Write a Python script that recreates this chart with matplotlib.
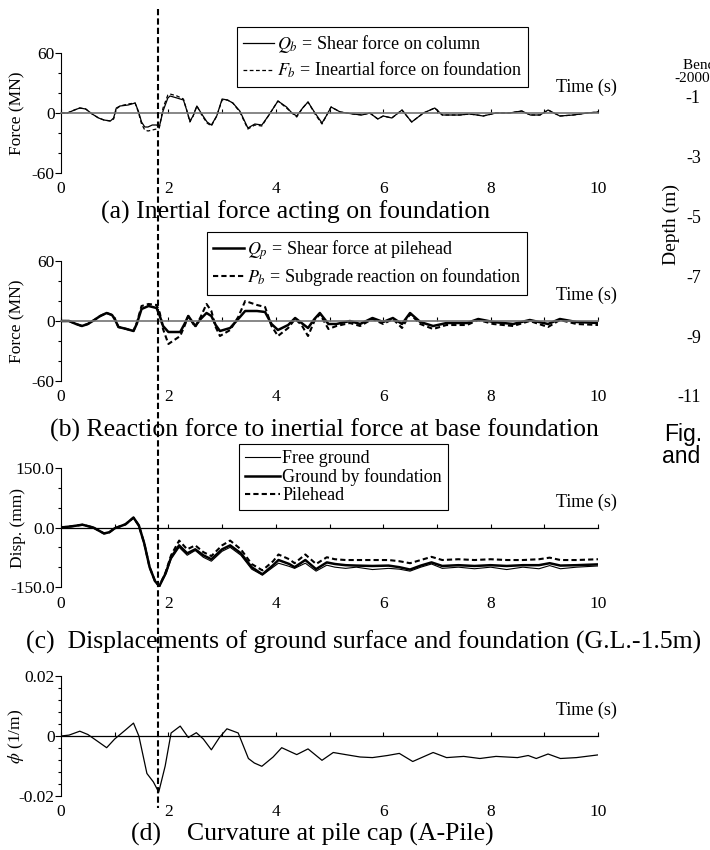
import matplotlib
matplotlib.use("Agg")
import matplotlib.pyplot as plt
from matplotlib.lines import Line2D

plt.rcParams['font.family'] = ['Liberation Serif', 'DejaVu Serif']
plt.rcParams['mathtext.fontset'] = 'stix'
plt.rcParams['axes.unicode_minus'] = False
plt.rcParams['lines.solid_joinstyle'] = 'round'
plt.rcParams['lines.dash_joinstyle'] = 'round'

#########################################################################
###                            DATA                                   ###
#########################################################################

# (a) inertial force acting on foundation (MN)
t_a = [0, 0.12, 0.25, 0.35, 0.46, 0.58, 0.7, 0.8, 0.92, 0.98,
       1.03, 1.1, 1.25, 1.38, 1.44, 1.5, 1.56, 1.62, 1.7, 1.78,
       1.83, 1.9, 1.99, 2.03, 2.16, 2.28, 2.34, 2.4, 2.46, 2.53,
       2.62, 2.72, 2.8, 2.9, 3.0, 3.1, 3.2, 3.33, 3.48, 3.61,
       3.74, 3.86, 4.04, 4.2, 4.3, 4.39, 4.5, 4.6, 4.73, 4.86,
       4.95, 5.03, 5.2, 5.44, 5.6, 5.75, 5.9, 6.0, 6.16, 6.35,
       6.53, 6.75, 6.96, 7.1, 7.43, 7.6, 7.75, 7.86, 8.1, 8.35,
       8.58, 8.74, 8.92, 9.07, 9.29, 9.54, 9.8, 10.0]
qb = [0, 0, 3, 5, 4, -1, -5, -7, -8, -5,
      5, 7, 8, 10, 2, -9, -14, -14, -12, -12,
      -14, 2, 15, 17, 15, 13, 3, -8, -3, 7,
      -1, -9, -12, -3, 14, 13, 10, 2, -15, -11,
      -12, -3, 12, 6, 0, -3, 5, 11, 0, -10,
      -2, 6, 1, -1, -2, 0, -6, -3, -5, 3,
      -9, 0, 5, -2, -2, -1, -2, -3, 0, 0,
      2, -2, -2, 3, -3, -2, 0, 1]
fb = [0, 0, 3, 5, 4, -1, -5, -7, -8, -6,
      4, 7, 9, 10, 1, -11, -17, -18, -17, -16,
      -15, 5, 18, 19, 17, 14, 3, -9, -3, 7,
      -2, -10, -13, -3, 13, 13, 10, 1, -16, -12,
      -13, -3, 12, 5, 0, -4, 5, 11, -1, -11,
      -2, 6, 1, -1, -2, 0, -6, -3, -5, 3,
      -9, 0, 5, -2, -2, -1, -2, -3, 0, 0,
      2, -2, -2, 3, -3, -2, 0, 1]

# (b) reaction force at base foundation (MN)
t_b = [0, 0.15, 0.28, 0.39, 0.5, 0.62, 0.73, 0.85, 0.95, 1.0,
       1.07, 1.22, 1.35, 1.41, 1.5, 1.63, 1.78, 1.84, 1.9, 2.0,
       2.22, 2.3, 2.37, 2.5, 2.6, 2.71, 2.8, 2.88, 2.96, 3.15,
       3.3, 3.43, 3.65, 3.8, 3.92, 4.04, 4.23, 4.36, 4.48, 4.6,
       4.72, 4.82, 4.98, 5.13, 5.38, 5.57, 5.8, 6.0, 6.18, 6.35,
       6.5, 6.69, 6.93, 7.18, 7.56, 7.77, 8.05, 8.42, 8.73, 9.07,
       9.29, 9.6, 10.0]
qp = [0, 0, -3, -5, -3, 1, 5, 8, 6, 2,
      -6, -8, -10, -3, 12, 15, 13, 5, -5, -11,
      -11, -3, 5, -5, 2, 8, 5, -4, -10, -7,
      2, 10, 10, 9, -3, -9, -4, 3, -2, -7,
      2, 8, -3, -3, 0, -3, 3, -1, 3, -3,
      8, -1, -5, -2, -2, 2, -1, -3, 1, -3,
      2, -1, -2]
pb = [0, 0, -3, -5, -3, 1, 5, 8, 6, 2,
      -6, -8, -10, -2, 15, 17, 16, 8, -8, -23,
      -15, -5, 5, -6, 4, 17, 10, -6, -15, -9,
      4, 20, 16, 14, -5, -15, -7, 2, -4, -15,
      0, 7, -8, -5, -2, -5, 2, -3, 2, -7,
      7, -3, -8, -4, -4, 1, -3, -5, 0, -6,
      1, -3, -4]

# (c) displacements (mm)
t_c = [0, 0.2, 0.4, 0.6, 0.8, 0.9, 1.0, 1.2, 1.35, 1.45,
       1.55, 1.65, 1.75, 1.83, 1.95, 2.05, 2.2, 2.35, 2.5, 2.65,
       2.8, 3.0, 3.15, 3.35, 3.55, 3.75, 3.95, 4.05, 4.25, 4.35,
       4.55, 4.75, 4.95, 5.1, 5.3, 5.5, 5.8, 6.1, 6.3, 6.5,
       6.7, 6.9, 7.1, 7.4, 7.7, 8.0, 8.3, 8.6, 8.9, 9.1,
       9.3, 9.6, 10.0]
free_ground = [0, 3, 7, 0, -15, -12, -2, 8, 25, 5,
               -40, -100, -135, -148, -118, -80, -50, -70, -58, -75,
               -85, -60, -50, -70, -105, -120, -100, -90, -98, -103,
               -90, -110, -95, -100, -103, -100, -106, -103, -105, -110,
               -100, -92, -103, -100, -104, -100, -106, -100, -104, -96,
               -104, -100, -97]
ground_fdn = [0, 3, 7, 0, -15, -12, -2, 8, 25, 5,
              -40, -100, -135, -148, -115, -75, -45, -65, -55, -70,
              -80, -55, -45, -65, -100, -118, -95, -82, -92, -100,
              -82, -105, -88, -92, -95, -96, -97, -96, -100, -106,
              -96, -88, -97, -95, -97, -95, -97, -95, -95, -90,
              -96, -95, -93]
pilehead = [0, 3, 7, 0, -15, -12, -2, 8, 25, 5,
            -40, -100, -135, -148, -112, -70, -33, -55, -45, -62,
            -72, -45, -33, -55, -92, -108, -85, -68, -80, -90,
            -68, -92, -75, -80, -82, -82, -82, -82, -85, -90,
            -82, -74, -82, -80, -82, -80, -82, -82, -80, -76,
            -82, -82, -80]

# (d) curvature at pile cap (1/m)
t_d = [0, 0.15, 0.35, 0.5, 0.7, 0.85, 1.0, 1.2, 1.35, 1.45,
       1.6, 1.72, 1.82, 1.94, 2.05, 2.22, 2.37, 2.52, 2.65, 2.8,
       2.95, 3.09, 3.3, 3.49, 3.6, 3.74, 3.95, 4.11, 4.39, 4.6,
       4.86, 5.07, 5.3, 5.57, 5.8, 6.08, 6.3, 6.55, 6.93, 7.18,
       7.5, 7.8, 8.1, 8.5, 8.7, 8.85, 9.07, 9.3, 9.6, 10.0]
curvature = [0, 0.0003, 0.0016, 0.0005, -0.002, -0.0039, -0.001, 0.002, 0.0043, 0.0,
             -0.0125, -0.0153, -0.0187, -0.010, 0.001, 0.0033, -0.0005, 0.0011, -0.001, -0.0046,
             -0.0005, 0.0024, 0.001, -0.0075, -0.009, -0.0101, -0.007, -0.0039, -0.0062, -0.0043,
             -0.0081, -0.0055, -0.0062, -0.007, -0.0072, -0.0065, -0.0058, -0.0085, -0.0055, -0.0072,
             -0.0068, -0.0075, -0.0068, -0.0072, -0.0065, -0.0075, -0.006, -0.0075, -0.0072, -0.0063]

peak_time = 1.81      # instant of max displacement (vertical dashed line)

time_major = [0, 2, 4, 6, 8, 10]
time_minor = [1, 3, 5, 7, 9]

depth_ticks = [-1, -3, -5, -7, -9, -11]

#########################################################################
###                            FIGURE                                 ###
#########################################################################

W, H = 710, 850
fig = plt.figure(figsize=(W / 100, H / 100), dpi=100)


def box(x0, top, x1, bottom):
    """pixel box -> figure fraction rect"""
    return [x0 / W, 1 - bottom / H, (x1 - x0) / W, (bottom - top) / H]


def setup_panel(ax, ylim, yticks, ylabels, yminor, ylabel, zero_color):
    ax.set_xlim(0, 10)
    ax.set_ylim(ylim)
    ax.patch.set_visible(False)
    ax.spines['top'].set_visible(False)
    ax.spines['right'].set_visible(False)
    ax.spines['bottom'].set_position(('data', 0))
    ax.spines['bottom'].set_color(zero_color)
    ax.spines['bottom'].set_linewidth(1.2)
    ax.spines['left'].set_linewidth(0.8)
    ax.set_xticks(time_major)
    ax.set_xticks(time_minor, minor=True)
    ax.set_xticklabels([str(v) for v in time_major])
    ax.tick_params(axis='x', which='both', direction='in', length=3, width=0.8,
                   pad=49, labelsize=12.5)
    ax.set_yticks(yticks)
    ax.set_yticklabels(ylabels)
    ax.set_yticks(yminor, minor=True)
    ax.tick_params(axis='y', which='major', direction='out', length=4, width=0.8,
                   pad=0.5, labelsize=12.5)
    ax.tick_params(axis='y', which='minor', direction='out', length=2.5, width=0.8)
    ax.set_ylabel(ylabel, fontsize=12.5)
    ax.yaxis.set_label_coords(-0.066, 0.5)
    ax.text(1.035, 0.71, 'Time (s)', transform=ax.transAxes, ha='right',
            va='center', fontsize=13)


# (a)
ax_a = fig.add_axes(box(61, 53, 598, 173))
ax_a.plot(t_a, qb, color='black', linewidth=0.9, label=r'$Q_b$ = Shear force on column')
ax_a.plot(t_a, fb, color='black', linewidth=0.9, linestyle=(0, (3, 2)),
          label=r'$F_b$ = Ineartial force on foundation')
setup_panel(ax_a, (-60, 60), [-60, 0, 60], ['-60', '0', '60'], [-40, -20, 20, 40],
            'Force (MN)', '0.45')

# (b)
ax_b = fig.add_axes(box(61, 261, 598, 381))
ax_b.plot(t_b, qp, color='black', linewidth=1.8, label=r'$Q_p$ = Shear force at pilehead')
ax_b.plot(t_b, pb, color='black', linewidth=1.5, linestyle=(0, (2.5, 1.5)),
          label=r'$P_b$ = Subgrade reaction on foundation')
setup_panel(ax_b, (-60, 60), [-60, 0, 60], ['-60', '0', '60'], [-40, -20, 20, 40],
            'Force (MN)', '0.45')

# (c)
ax_c = fig.add_axes(box(61, 468, 598, 587))
ax_c.plot(t_c, free_ground, color='black', linewidth=0.8, label='Free ground')
ax_c.plot(t_c, ground_fdn, color='black', linewidth=1.8, label='Ground by foundation')
ax_c.plot(t_c, pilehead, color='black', linewidth=1.5, linestyle=(0, (2.5, 1.5)),
          label='Pilehead')
setup_panel(ax_c, (-150, 150), [-150, 0, 150], ['-150.0', '0.0', '150.0'],
            [-100, -50, 50, 100], 'Disp. (mm)', 'black')
ax_c.spines['bottom'].set_linewidth(0.9)

# (d)
ax_d = fig.add_axes(box(61, 676, 598, 796))
ax_d.plot(t_d, curvature, color='black', linewidth=0.9)
setup_panel(ax_d, (-0.02, 0.02), [-0.02, 0, 0.02], ['-0.02', '0', '0.02'],
            [-0.016, -0.012, -0.008, -0.004, 0.004, 0.008, 0.012, 0.016],
            r'$\phi$ (1/m)', 'black')
ax_d.spines['bottom'].set_linewidth(0.9)

# legends
leg_kw = dict(loc='upper left', bbox_transform=fig.transFigure, frameon=True,
              fancybox=False, framealpha=1, edgecolor='black', borderaxespad=0,
              handletextpad=0.15, borderpad=0.35)
leg = ax_a.legend(bbox_to_anchor=(237 / W, 1 - 27 / H), fontsize=13,
                  handlelength=1.7, labelspacing=0.25, **leg_kw)
leg.get_frame().set_linewidth(0.8)
leg = ax_b.legend(bbox_to_anchor=(207 / W, 1 - 232 / H), fontsize=13,
                  handlelength=1.7, labelspacing=0.25, **leg_kw)
leg.get_frame().set_linewidth(0.8)
leg = ax_c.legend(bbox_to_anchor=(239 / W, 1 - 444 / H), fontsize=13,
                  handlelength=1.9, labelspacing=0.05, **leg_kw)
leg.get_frame().set_linewidth(0.8)

# panel captions
fig.text(296 / W, 1 - 212 / H, '(a) Inertial force acting on foundation',
         ha='center', va='center', fontsize=18.5)
fig.text(324 / W, 1 - 430 / H, '(b) Reaction force to inertial force at base foundation',
         ha='center', va='center', fontsize=18.5)
fig.text(364 / W, 1 - 642 / H,
         '(c)  Displacements of ground surface and foundation (G.L.-1.5m)',
         ha='center', va='center', fontsize=18.5)
fig.text(312 / W, 1 - 834 / H, '(d)    Curvature at pile cap (A-Pile)',
         ha='center', va='center', fontsize=18.5)

# vertical dashed line through all panels at the peak instant
x_peak = fig.transFigure.inverted().transform(ax_a.transData.transform((peak_time, 0)))[0]
fig.add_artist(Line2D([x_peak, x_peak], [1 - 9 / H, 1 - 808 / H],
                      transform=fig.transFigure, color='black', linewidth=1.5,
                      linestyle=(0, (3, 1.5))))

# neighbouring figure, cut off at the right edge
ax_r = fig.add_axes(box(705, 97, 850, 396))
ax_r.set_ylim(-11, -1)
ax_r.set_yticks(depth_ticks)
ax_r.set_yticklabels([str(v) for v in depth_ticks])
ax_r.set_xticks([])
for s in ax_r.spines.values():
    s.set_visible(False)
ax_r.patch.set_visible(False)
ax_r.tick_params(axis='y', length=0, pad=3, labelsize=13)
ax_r.set_ylabel('Depth (m)', fontsize=14)
ax_r.yaxis.set_label_coords(-0.17, 0.575)
fig.text(683 / W, 1 - 66 / H, 'Bending moment', ha='left', va='center', fontsize=11)
fig.text(674 / W, 1 - 79 / H, '-2000', ha='left', va='center', fontsize=11)
fig.text(664 / W, 1 - 434 / H, 'Fig.', ha='left', va='center', fontsize=16.5,
         family='Liberation Sans')
fig.text(662 / W, 1 - 457 / H, 'and', ha='left', va='center', fontsize=16.5,
         family='Liberation Sans')

fig.savefig('out.png', dpi=100)
